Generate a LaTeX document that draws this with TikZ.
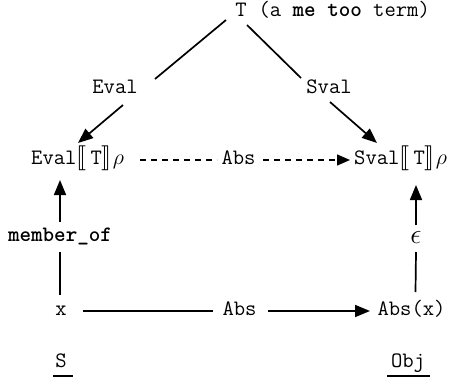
\RequirePackage{fix-cm}
\documentclass[tikz,border=0pt]{standalone}
\usepackage{fontspec}
\usepackage{stmaryrd}
\usetikzlibrary{arrows.meta}

% semantic brackets, set a little larger than the text
\newcommand{\semL}{{\fontsize{26}{28}\selectfont$\llbracket$}}
\newcommand{\semR}{{\fontsize{26}{28}\selectfont$\rrbracket$}}

\begin{document}
\begin{tikzpicture}[x=1pt,y=-1pt,
  lbl/.style={inner sep=0pt, text height=12pt, text depth=3pt,
              font=\fontsize{22}{26}\selectfont\ttfamily},
  wire/.style={line width=1.7pt},
  arr/.style={wire, -{Triangle[length=15pt,width=12pt]}},
  dwire/.style={line width=1.5pt, dash pattern=on 6pt off 5pt},
  darr/.style={dwire, -{Triangle[length=13pt,width=11pt]}}]
\useasboundingbox (0,0) rectangle (461,381);

% term at the apex
\node[lbl] (T) at (241,12) {T};
\node[lbl, anchor=base west] (note) at ([xshift=11.55pt]T.base east)
  {(a \textbf{me too} term)};

% evaluation function labels
\node[lbl] (evl) at (115,89) {Eval};
\node[lbl] (svl) at (329,89) {Sval};

% middle row
\node[lbl, anchor=west] (evalT) at (31,160)
  {Eval\semL\hspace{4pt}T\semR\hspace{1pt}$\rho$};
\node[lbl] (absD) at (238.5,160) {Abs};
\node[lbl, anchor=west] (svalT) at (354,160)
  {Sval\semL\hspace{4pt}T\semR\hspace{1pt}$\rho$};

% vertical labels
\node[lbl] (mem) at (60,237) {\textbf{member\_of}};
\node[lbl] (eps) at (416,239) {\fontsize{28}{30}\selectfont$\epsilon$};

% bottom row
\node[lbl] (xn) at (61,311) {x};
\node[lbl] (absB) at (239.5,311) {Abs};
\node[lbl] (absx) at (411.5,311) {Abs(x)};

% domain names
\node[lbl] (S) at (61,363) {S};
\node[lbl] (Obj) at (408,363) {Obj};

% T to the two evaluations
\draw[wire] ([shift={(-15,8)}]T.center) -- ([shift={(40,-10)}]evl.center);
\draw[wire] ([shift={(6,13)}]T.center) -- ([shift={(-28,-11)}]svl.center);
\draw[arr] ([shift={(8,16)}]evl.center) -- ([shift={(47,-17)}]evalT.west);
\draw[arr] ([shift={(1,13)}]svl.center) -- ([shift={(23,-17)}]svalT.west);

% dashed abstraction between values
\draw[dwire] ([shift={(109,0)}]evalT.west) -- ([shift={(-21.5,0)}]absD.center);
\draw[darr] ([shift={(24.5,0)}]absD.center) -- ([shift={(-4,0)}]svalT.west);

% membership and epsilon
\draw[wire] ([shift={(-1,-16)}]xn.center) -- ([shift={(0,15)}]mem.center);
\draw[arr] ([shift={(0,-15)}]mem.center) -- ([shift={(29,20)}]evalT.west);
\draw[wire] ([shift={(4,-19)}]absx.center) -- ([shift={(0,13)}]eps.center);
\draw[arr] ([shift={(0,-14)}]eps.center) -- ([shift={(62,25)}]svalT.west);

% bottom abstraction
\draw[wire] ([shift={(22,0)}]xn.center) -- ([shift={(-26.5,0)}]absB.center);
\draw[arr] ([shift={(28.5,0)}]absB.center) -- ([shift={(-41.5,0)}]absx.center);

% underlines of the domain names
\draw[wire] ([shift={(-8,13)}]S.center) -- ([shift={(12,13)}]S.center);
\draw[wire] ([shift={(-21,13)}]Obj.center) -- ([shift={(22,13)}]Obj.center);
\end{tikzpicture}
\end{document}
